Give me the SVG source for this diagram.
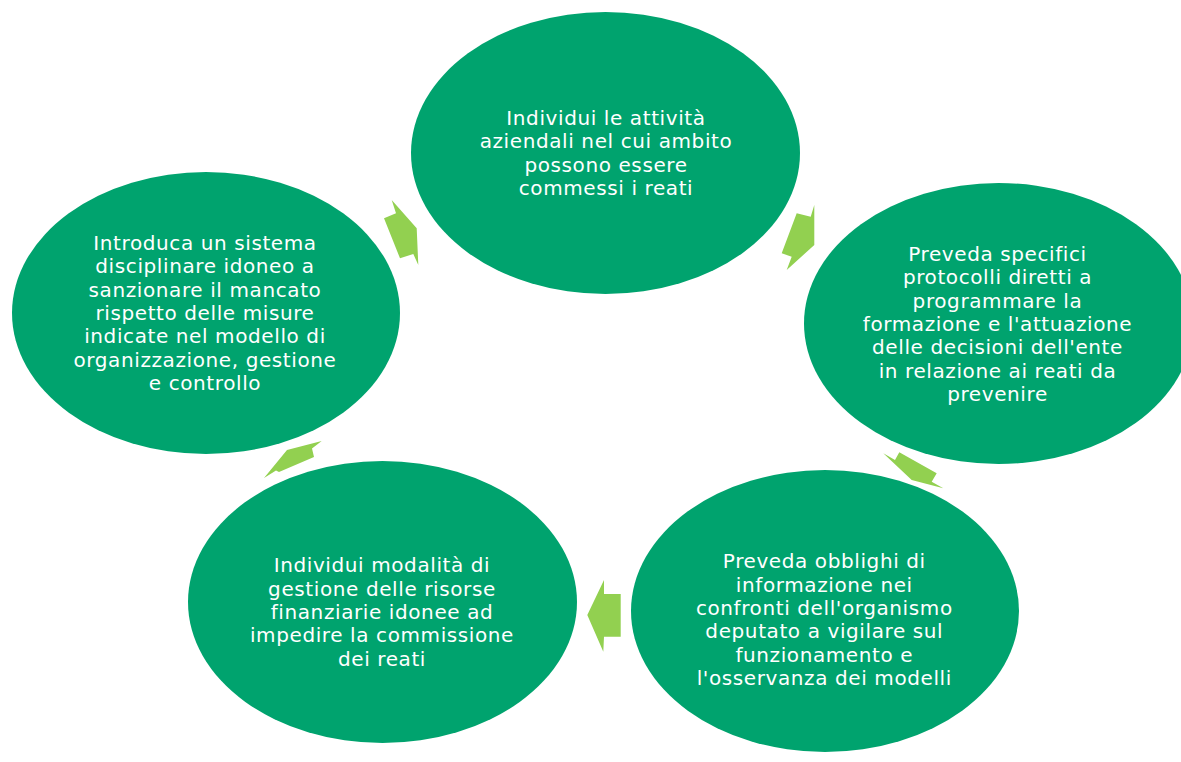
<svg xmlns="http://www.w3.org/2000/svg" width="1181" height="762" viewBox="0 0 1181 762">
<style>
.node{fill:#00A36E;}
.arr{fill:#92D050;}
.t{font-family:"DejaVu Sans",Verdana,sans-serif;font-size:20px;fill:#FFFFFF;text-anchor:middle;letter-spacing:0.6px;}
</style>
<rect x="0" y="0" width="1181" height="762" fill="#FFFFFF"/>
<g id="connectors">
<polygon class="arr" points="391.7,200 396,213.3 384,218.3 400,258.3 413.3,254 418.3,265 416.7,228.3"/>
<polygon class="arr" points="814.3,205 810.7,216.7 796.7,213.3 781.7,253.3 791.7,256.7 786.7,270 814.3,245"/>
<polygon class="arr" points="883.3,453.3 895,460 899.3,452.3 936.7,473.3 931.7,481.7 943.3,488.3 911.7,480"/>
<polygon class="arr" points="587.3,615 604,580 604,594 620.7,594 620.7,636.7 604,636.7 603.3,651.7"/>
<polygon class="arr" points="287,450 321.7,441 312,448.5 314,457 279,472 276,470.5 264,478"/>
</g>
<g id="node-top">
<ellipse class="node" cx="605.5" cy="153" rx="194.5" ry="141"/>
<text class="t" x="606" y="125">Individui le attività</text>
<text class="t" x="606" y="148.3">aziendali nel cui ambito</text>
<text class="t" x="606" y="171.7">possono essere</text>
<text class="t" x="606" y="195">commessi i reati</text>
</g>
<g id="node-right">
<ellipse class="node" cx="998.5" cy="323.5" rx="194.5" ry="140.5"/>
<text class="t" x="997.5" y="261">Preveda specifici</text>
<text class="t" x="997.5" y="284.3">protocolli diretti a</text>
<text class="t" x="997.5" y="307.7">programmare la</text>
<text class="t" x="997.5" y="331">formazione e l'attuazione</text>
<text class="t" x="997.5" y="354.3">delle decisioni dell'ente</text>
<text class="t" x="997.5" y="377.7">in relazione ai reati da</text>
<text class="t" x="997.5" y="401">prevenire</text>
</g>
<g id="node-bottom-right">
<ellipse class="node" cx="825" cy="611" rx="194" ry="141"/>
<text class="t" x="824.3" y="568.3">Preveda obblighi di</text>
<text class="t" x="824.3" y="591.7">informazione nei</text>
<text class="t" x="824.3" y="615">confronti dell'organismo</text>
<text class="t" x="824.3" y="638.3">deputato a vigilare sul</text>
<text class="t" x="824.3" y="661.7">funzionamento e</text>
<text class="t" x="824.3" y="685">l'osservanza dei modelli</text>
</g>
<g id="node-bottom-left">
<ellipse class="node" cx="382.5" cy="602" rx="194.5" ry="141"/>
<text class="t" x="382" y="572.3">Individui modalità di</text>
<text class="t" x="382" y="595.7">gestione delle risorse</text>
<text class="t" x="382" y="619">finanziarie idonee ad</text>
<text class="t" x="382" y="642.3">impedire la commissione</text>
<text class="t" x="382" y="665.7">dei reati</text>
</g>
<g id="node-left">
<ellipse class="node" cx="206" cy="313" rx="194" ry="141"/>
<text class="t" x="205" y="250">Introduca un sistema</text>
<text class="t" x="205" y="273.3">disciplinare idoneo a</text>
<text class="t" x="205" y="296.7">sanzionare il mancato</text>
<text class="t" x="205" y="320">rispetto delle misure</text>
<text class="t" x="205" y="343.3">indicate nel modello di</text>
<text class="t" x="205" y="366.7">organizzazione, gestione</text>
<text class="t" x="205" y="390">e controllo</text>
</g>
</svg>
